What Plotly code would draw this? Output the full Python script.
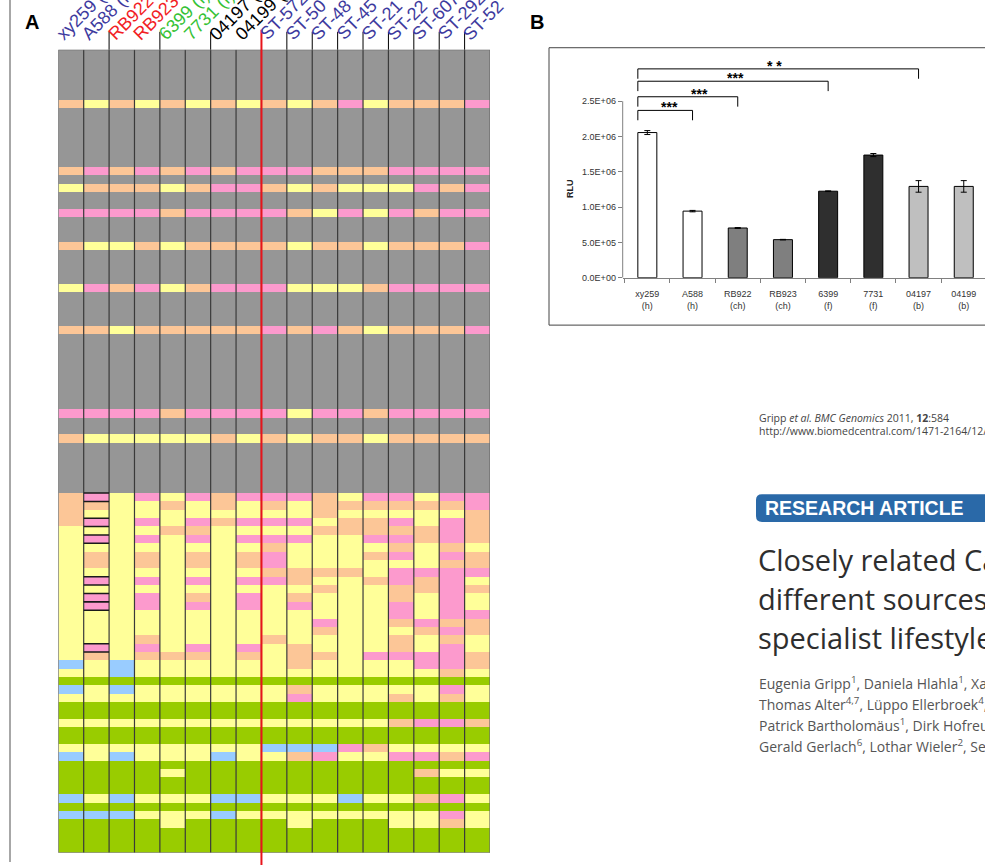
import plotly.graph_objects as go

W, H = 985, 867

# ---------------- Panel A data ----------------
strains = ["xy259 (h)", "A588 (h)", "RB922 (ch)", "RB923 (ch)", "6399 (f)", "7731 (f)",
           "04197 (b)", "04199 (b)", "ST-572", "ST-50", "ST-48", "ST-45", "ST-21",
           "ST-22", "ST-607", "ST-292", "ST-52"]
strain_groups = ["h", "h", "ch", "ch", "f", "f", "b", "b",
                 "st", "st", "st", "st", "st", "st", "st", "st", "st"]
group_label_colors = {"h": "#3D3A9E", "ch": "#F21C24", "f": "#35C235",
                      "b": "#000000", "st": "#3D3A9E"}

state_codes = "XOYPBG"
state_colors = ["#969696", "#FCC697", "#FFFF99", "#FC9ACD", "#99CCFF", "#99CC00"]

n_rows = 96
upper_bands = {
    6:  "OYOYOYOYOYOPYOOOP",
    14: "OPOPOPOPPPOOOPPPP",
    16: "YOOOYOPPOYOYYYPOP",
    19: "PPPPOPPPPOYPYPOPP",
    23: "OYYOYOOOOYOOYOOOP",
    28: "YPOPYOPPPYYYOPPPP",
    33: "OOYOOOOOPOPOYOOOP",
    43: "PPPPOPPPPYPPOPPPP",
    46: "OYYYYYOYOYOOYOOOO",
}
lower_first_row = 53
lower_columns = [
    "OOOOYYYYYYYYYYYYYYYYBYGBYGGYGGYBGGGGBGBGGGG",
    "POYPYPYOOYPYPPYYYYPOYYGYYGGYGGYYGGGGYGBGGGG",
    "YYYYYYYYYYYYYYYYYYYYBBGBYGGYGGYBGGGGBGBGGGG",
    "PYYPYPYOOYPYPPYYYOPOYYGYYGGYGGYYGGGGYGYGGGG",
    "YOYYOYYYYYYYYYYYYYYOYYGYYGGYGGYYGYGGYGYYGGG",
    "PYYPOPYOOYPYOPYYYYPOYYGYYGGYGGYYGGGGYGYGGGG",
    "OOYOYYYYYYYYYYYYYYYYYYGYYGGYGGYBGGGGBGBGGGG",
    "PYYPYPYOOYPYPPYYYYPOYYGYYGGYGGYYGGGGBGYGGGG",
    "POYPYPOPPOPYYYYYYOYYYYGYYGGYGGBYGGGGYGYGGGG",
    "PYYPYPYYYOOYOPYYYYOOOYGOPGGYGGBOGGGGYGYYGGG",
    "OOOYOYYYYOYOYYYPOYYOYYGYYGGYGGBPGGGGYGYGGGG",
    "YOYOOYYYYOYYYYYYYYYYYYGYYGGYGGPYGGGGBGYGGGG",
    "POYOOPYOYYOYYYYYYYYPYYGYYGGYGGOYGGGGYGYGGGG",
    "POYPOPOPYPPOOPPOYOOPYYGYOGGOGGYPGGGGYGYYGGG",
    "YOYYOOYYYPOOYYYPOYYPPYGYYGGPGGYPGOGGOGYYGGG",
    "POYPPPOPOPPPPPPOPOPPPOGPOGGPGGYOGYGGPGPOGGG",
    "PPOOOOYOOPYOYYPOOYYOOYGYYGGOGGYPGYGGYGYYGGG",
]

# ---------------- Panel B data ----------------
bar_strains = ["xy259", "A588", "RB922", "RB923", "6399", "7731", "04197", "04199"]
bar_sources = ["h", "h", "ch", "ch", "f", "f", "b", "b"]
rlu = [2.056e6, 0.943e6, 0.704e6, 0.539e6, 1.225e6, 1.737e6, 1.293e6, 1.293e6]
rlu_err = [0.028e6, 0.010e6, 0.006e6, 0.004e6, 0.005e6, 0.022e6, 0.082e6, 0.082e6]
source_fill = {"h": "#FFFFFF", "ch": "#7F7F7F", "f": "#2F2F2F", "b": "#BFBFBF"}
y_tick_values = [0, 0.5e6, 1.0e6, 1.5e6, 2.0e6, 2.5e6]
y_tick_labels = ["0.0E+00", "5.0E+05", "1.0E+06", "1.5E+06", "2.0E+06", "2.5E+06"]
comparisons = [(0, 1, "***"), (0, 2, "***"), (0, 4, "***"), (0, 6, "* *")]
bracket_levels = [2.370e6, 2.563e6, 2.783e6, 2.958e6]

# ---------------- build grid ----------------
n_cols = len(strains)
for col in lower_columns:
    assert len(col) == n_rows - lower_first_row, len(col)
grid = []
for r in range(n_rows):
    if r < lower_first_row:
        grid.append(upper_bands.get(r, "X" * n_cols))
    else:
        grid.append("".join(col[r - lower_first_row] for col in lower_columns))
z = [[state_codes.index(ch) for ch in row] for row in grid]

ns = len(state_colors)
colorscale = []
for i, c in enumerate(state_colors):
    colorscale.append([i / ns, c])
    colorscale.append([(i + 1) / ns, c])


def px(x):
    return x / W


def py(y):
    return 1 - y / H


fig = go.Figure()
fig.add_trace(go.Heatmap(z=z, x=list(range(n_cols)), y=list(range(n_rows)),
                         colorscale=colorscale, zmin=-0.5, zmax=ns - 0.5,
                         showscale=False, hoverinfo="skip", xaxis="x", yaxis="y"))

bar_width = 0.42
fig.add_trace(go.Bar(
    x=list(range(len(bar_strains))), y=rlu, width=bar_width,
    marker=dict(color=[source_fill[s] for s in bar_sources],
                line=dict(color="#000000", width=1)),
    error_y=dict(type="data", array=rlu_err, color="#000000", thickness=1, width=3),
    xaxis="x2", yaxis="y2", hoverinfo="skip"))

A_x0, A_x1 = px(58.3), px(490.0)
A_y0, A_y1 = py(857.7), py(50.0)
B_x0 = px(622.7)
B_y0, B_y1 = py(279.3), py(55.0)
y2_top = (279.3 - 55.0) / 71.0 * 1e6

FONT = "Liberation Sans, Arial, sans-serif"
SERIF_LIKE = "Open Sans, Liberation Sans, sans-serif"

fig.update_layout(
    width=W, height=H, margin=dict(l=0, r=0, t=0, b=0),
    paper_bgcolor="white", plot_bgcolor="white", showlegend=False,
    font=dict(family=FONT, color="#333333"),
    xaxis=dict(domain=[A_x0, A_x1], range=[-0.5, n_cols - 0.5], visible=False),
    yaxis=dict(domain=[A_y0, A_y1], range=[n_rows - 0.5, -0.5], visible=False),
    xaxis2=dict(domain=[B_x0, 1.0], range=[-0.545, 7.47], anchor="y2",
                tickmode="array", tickvals=list(range(len(bar_strains))),
                ticktext=[f"{s}<br>({g})" for s, g in zip(bar_strains, bar_sources)],
                tickfont=dict(size=9, color="#333333"),
                ticks="outside", ticklen=8, tickcolor="rgba(0,0,0,0)",
                minor=dict(tickmode="array",
                           tickvals=[i - 0.5 for i in range(len(bar_strains) + 1)],
                           ticks="outside", ticklen=4, tickcolor="#808080", tickwidth=1),
                showline=True, linecolor="#808080", linewidth=1,
                showgrid=False, zeroline=False),
    yaxis2=dict(domain=[B_y0, B_y1], range=[0, y2_top], anchor="x2",
                tickmode="array", tickvals=y_tick_values, ticktext=y_tick_labels,
                tickfont=dict(size=9, color="#333333"),
                ticks="outside", ticklen=4, tickcolor="#808080",
                showline=False, showgrid=False, zeroline=False),
)

shapes = []
# page edge line
shapes.append(dict(type="line", xref="paper", yref="paper", x0=px(10), x1=px(10),
                   y0=0, y1=1, line=dict(color="#8a8a8a", width=1.5)))
# column boundaries
for b in range(1, n_cols):
    shapes.append(dict(type="line", xref="x", yref="y", x0=b - 0.5, x1=b - 0.5,
                       y0=-0.5, y1=n_rows - 0.5, line=dict(color="#3a3a3a", width=1.2)))
shapes.append(dict(type="rect", xref="x", yref="y", x0=-0.5, x1=n_cols - 0.5,
                   y0=-0.5, y1=n_rows - 0.5, line=dict(color="#6a6a6a", width=1.2)))
# A588 outlines in lower block
for r in range(lower_first_row, n_rows):
    if grid[r][1] == "P":
        for yy in (r - 0.5, r + 0.5):
            shapes.append(dict(type="line", xref="x", yref="y", x0=0.5, x1=1.5,
                               y0=yy, y1=yy, line=dict(color="#1a1a1a", width=1.5)))
# group ticks above grid
colw = (A_x1 - A_x0) / n_cols
for b in [2, 4, 6] + list(range(9, n_cols)):
    xx = A_x0 + b * colw
    shapes.append(dict(type="line", xref="paper", yref="paper", x0=xx, x1=xx,
                       y0=py(32), y1=py(50), line=dict(color="#000000", width=1)))
# red divider
xr = A_x0 + 8 * colw
shapes.append(dict(type="line", xref="paper", yref="paper", x0=xr, x1=xr,
                   y0=py(870), y1=py(30), line=dict(color="#E8141B", width=2)))

# Panel B frame
shapes.append(dict(type="rect", xref="paper", yref="paper", x0=px(549), x1=px(1010),
                   y0=py(327), y1=py(48), line=dict(color="#444444", width=1)))
# y axis line up to 2.5E+06
shapes.append(dict(type="line", xref="x2 domain", yref="y2", x0=0, x1=0,
                   y0=0, y1=y_tick_values[-1], line=dict(color="#808080", width=1)))
# significance brackets
drop = 0.14e6
left = 0 - bar_width / 2
for (a, b, _), lvl in zip(comparisons, bracket_levels):
    for seg in [(left, lvl, b, lvl), (left, lvl, left, lvl - drop), (b, lvl, b, lvl - drop)]:
        shapes.append(dict(type="line", xref="x2", yref="y2", x0=seg[0], y0=seg[1],
                           x1=seg[2], y1=seg[3], line=dict(color="#000000", width=1)))

# banner
bx0, bx1, byt, byb = px(756), px(1000), py(497), py(525)
rx, ry = px(6), 6 / H
shapes.append(dict(type="path", xref="paper", yref="paper",
                   path=(f"M {bx0+rx},{byt} L {bx1},{byt} L {bx1},{byb} L {bx0+rx},{byb} "
                         f"Q {bx0},{byb} {bx0},{byb+ry} L {bx0},{byt-ry} Q {bx0},{byt} {bx0+rx},{byt} Z"),
                   fillcolor="#2A69A8", line=dict(width=0)))

annotations = []


def note(text, x, y, size, color, xanchor="center", yanchor="middle", family=FONT, **kw):
    annotations.append(dict(text=text, xref="paper", yref="paper", x=px(x), y=py(y),
                            xanchor=xanchor, yanchor=yanchor, showarrow=False,
                            font=dict(family=family, size=size, color=color), **kw))


# rotated strain labels
for i, (s, g) in enumerate(zip(strains, strain_groups)):
    annotations.append(dict(text=s, xref="paper", yref="paper",
                            x=A_x0 + i * colw - px(8), y=py(47),
                            xanchor="left", yanchor="bottom", textangle=-45, showarrow=False,
                            font=dict(family=FONT, size=18, color=group_label_colors[g])))
note("<b>A</b>", 32, 22, 20, "#000")
note("<b>B</b>", 537, 22, 20, "#000")
note("<b>RLU</b>", 570, 190, 9, "#222", textangle=-90)
star_x = [0.5, 1.16, 1.94, 2.82]
for (a, b, txt), lvl, sx in zip(comparisons, bracket_levels, star_x):
    annotations.append(dict(text=f"<b>{txt}</b>", xref="x2", yref="y2", x=sx, y=lvl,
                            xanchor="center", yanchor="bottom", yshift=-7, showarrow=False,
                            font=dict(family=FONT, size=14, color="#000")))

# article text
note("Gripp <i>et al. BMC Genomics</i> 2011, <b>12</b>:584", 757, 420, 10.5, "#444",
     xanchor="left", family=SERIF_LIKE)
note("http://www.biomedcentral.com/1471-2164/12/584", 757, 433, 10.5, "#444",
     xanchor="left", family=SERIF_LIKE)
note("<b>RESEARCH ARTICLE</b>", 763, 511, 19.5, "#FFFFFF", xanchor="left")
title_lines = ["Closely related Campylobacter jejuni strains from",
               "different sources reveal a generalist rather than a",
               "specialist lifestyle"]
for t, yy in zip(title_lines, [563, 602, 641]):
    note(t, 756, yy, 29, "#2E2E2E", xanchor="left", family=SERIF_LIKE)
author_lines = [
    "Eugenia Gripp<sup>1</sup>, Daniela Hlahla<sup>1</sup>, Xavier Didelot<sup>3</sup>, Friederike Kops<sup>1</sup>",
    "Thomas Alter<sup>4,7</sup>, Lüppo Ellerbroek<sup>4</sup>, Kerstin Stingl<sup>4</sup>",
    "Patrick Bartholomäus<sup>1</sup>, Dirk Hofreuter<sup>1</sup>, Daniel Falush<sup>3</sup>",
    "Gerald Gerlach<sup>6</sup>, Lothar Wieler<sup>2</sup>, Sebastian Suerbaum<sup>1</sup>",
]
for t, yy in zip(author_lines, [687, 708, 729, 750]):
    note(t, 757, yy, 14, "#555555", xanchor="left", family=SERIF_LIKE)

fig.update_layout(shapes=shapes, annotations=annotations)
fig.write_html("out.html", config={"displayModeBar": False},
               post_script="document.body.style.margin='0';document.body.style.overflow='hidden';")
